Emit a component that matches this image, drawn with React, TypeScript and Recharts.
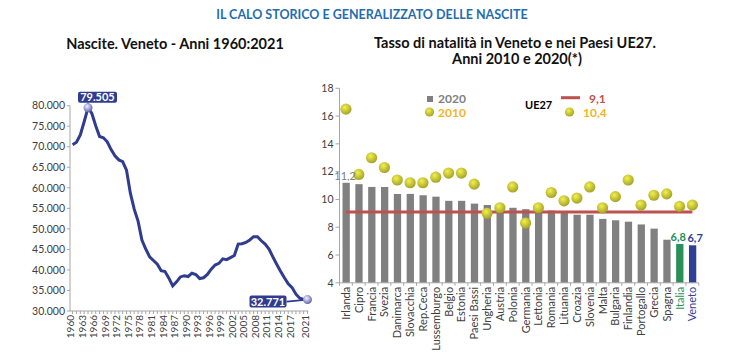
import { LineChart, Line, XAxis, YAxis, ComposedChart, Bar, Scatter, Cell, LabelList } from "recharts";

// --- Nascite Veneto 1960-2021 ---
const YEARS = [
  1960, 1961, 1962, 1963, 1964, 1965, 1966, 1967, 1968, 1969,
  1970, 1971, 1972, 1973, 1974, 1975, 1976, 1977, 1978, 1979,
  1980, 1981, 1982, 1983, 1984, 1985, 1986, 1987, 1988, 1989,
  1990, 1991, 1992, 1993, 1994, 1995, 1996, 1997, 1998, 1999,
  2000, 2001, 2002, 2003, 2004, 2005, 2006, 2007, 2008, 2009,
  2010, 2011, 2012, 2013, 2014, 2015, 2016, 2017, 2018, 2019,
  2020, 2021,
];
const BIRTHS = [
  70500, 71100, 72900, 76100, 79505, 78100, 75100, 72500, 72200, 71200,
  69300, 67800, 66800, 66400, 64300, 58700, 54800, 51900, 47300, 45100,
  43200, 42300, 41400, 39800, 39600, 38000, 36100, 37100, 38300, 38600,
  38400, 39200, 38900, 37900, 38100, 38900, 40200, 41200, 41600, 42700,
  42500, 43000, 43500, 46300, 46400, 46700, 47300, 48100, 48100, 47100,
  46300, 45100, 43200, 41400, 39700, 38100, 36600, 35700, 34100, 33100,
  32800, 32771,
];
const YEAR_LABELS = [
  1960, 1963, 1966, 1969, 1972, 1975, 1978, 1981, 1984, 1987, 1990,
  1993, 1996, 1999, 2002, 2005, 2008, 2011, 2014, 2017, 2021,
];
const BIRTH_TICKS = [30000, 35000, 40000, 45000, 50000, 55000, 60000, 65000, 70000, 75000, 80000];
const PEAK_YEAR = 1964;
const LAST_YEAR = 2021;

// --- Tasso di natalità UE27 ---
const COUNTRIES = [
  "Irlanda", "Cipro", "Francia", "Svezia", "Danimarca", "Slovacchia", "Rep.Ceca",
  "Lussemburgo", "Belgio", "Estonia", "Paesi Bassi", "Ungheria", "Austria", "Polonia",
  "Germania", "Lettonia", "Romania", "Lituania", "Croazia", "Slovenia", "Malta",
  "Bulgaria", "Finlandia", "Portogallo", "Grecia", "Spagna", "Italia", "Veneto",
];
const RATE_2020 = [
  11.2, 11.1, 10.9, 10.9, 10.4, 10.4, 10.3, 10.2, 9.9, 9.9, 9.7, 9.6, 9.5, 9.4,
  9.3, 9.2, 9.2, 9.1, 8.9, 8.9, 8.6, 8.5, 8.4, 8.2, 7.9, 7.1, 6.8, 6.7,
];
const RATE_2010 = [
  16.5, 11.8, 13.0, 12.3, 11.4, 11.2, 11.2, 11.6, 11.9, 11.9, 11.1, 9.0, 9.4, 10.9,
  8.3, 9.4, 10.5, 9.9, 10.1, 10.9, 9.4, 10.2, 11.4, 9.6, 10.3, 10.4, 9.5, 9.6,
];
const UE27_2020 = 9.1;
const UE27_2010 = 10.4;
const RATE_TICKS = [4, 6, 8, 10, 12, 14, 16, 18];
const LABELED = ["Irlanda", "Italia", "Veneto"];

const FONT = "Lato, 'Open Sans', sans-serif";
const NAVY = "#2f3c8f";
const GRAY_BAR = "#808080";
const GREEN = "#2a8f58";
const BLUE = "#2f3f96";
const RED = "#c0504d";
const YELLOW_TXT = "#f2b51c";
const AXIS = "#a6a6a6";
const TICK_TXT = "#404040";

const BAND = 359.3 / COUNTRIES.length;

const birthData = YEARS.map((year, i) => ({ year, births: BIRTHS[i] }));
const rateData = COUNTRIES.map((name, i) => ({
  name,
  r2020: RATE_2020[i],
  r2010: RATE_2010[i],
  ue27: UE27_2020,
}));

const fmtThousands = (v: number) => String(v).replace(/\B(?=(\d{3})+(?!\d))/g, ".");
const fmtDecimal = (v: number) => v.toFixed(1).replace(".", ",");

const countryColor = (name: string) =>
  name === "Italia" ? GREEN : name === "Veneto" ? BLUE : TICK_TXT;
const barColor = (name: string) =>
  name === "Italia" ? GREEN : name === "Veneto" ? BLUE : GRAY_BAR;

function YearTick(props: any) {
  const { x, y, payload } = props;
  if (!YEAR_LABELS.includes(payload.value)) return null;
  const ax = x + 1.5;
  return (
    <text
      x={ax}
      y={y}
      transform={`rotate(-90 ${ax} ${y})`}
      textAnchor="end"
      fontSize={10}
      fontFamily={FONT}
      fill={TICK_TXT}
    >
      {payload.value}
    </text>
  );
}

function CountryTick(props: any) {
  const { x, y, payload, index } = props;
  const ax = x + 4;
  const axisY = y - 4;
  const last = index === COUNTRIES.length - 1;
  return (
    <g>
      <line x1={x - BAND / 2} x2={x - BAND / 2} y1={axisY} y2={axisY + 3} stroke={AXIS} />
      {last && <line x1={x + BAND / 2} x2={x + BAND / 2} y1={axisY} y2={axisY + 3} stroke={AXIS} />}
      <text
        x={ax}
        y={y}
        transform={`rotate(-90 ${ax} ${y})`}
        textAnchor="end"
        fontSize={11}
        fontFamily={FONT}
        fill={countryColor(payload.value)}
      >
        {payload.value}
      </text>
    </g>
  );
}

function BirthDot(props: any) {
  const { cx, cy, payload } = props;
  if (payload.year === PEAK_YEAR) {
    return (
      <g key="peak">
        <rect x={cx - 10} y={cy - 16} width={39} height={11} rx={2} fill={NAVY} />
        <text x={cx + 9.5} y={cy - 6.8} textAnchor="middle" fontSize={11} fontWeight={700} fontFamily={FONT} fill="#fff">
          {fmtThousands(payload.births)}
        </text>
        <line x1={cx} y1={cy - 5} x2={cx} y2={cy} stroke={NAVY} strokeWidth={1.5} />
        <circle cx={cx} cy={cy} r={4.5} fill="url(#ballBlue)" />
      </g>
    );
  }
  if (payload.year === LAST_YEAR) {
    return (
      <g key="last">
        <line x1={cx - 21} y1={cy + 2} x2={cx} y2={cy} stroke={NAVY} strokeWidth={2} />
        <rect x={cx - 58} y={cy - 4} width={37} height={12} rx={2} fill={NAVY} />
        <text x={cx - 39.5} y={cy + 6} textAnchor="middle" fontSize={11} fontWeight={700} fontFamily={FONT} fill="#fff">
          {fmtThousands(payload.births)}
        </text>
        <circle cx={cx} cy={cy} r={4.5} fill="url(#ballBlue)" />
      </g>
    );
  }
  return <g key={`d${payload.year}`} />;
}

function RateLabel(props: any) {
  const { x, y, width, value, index } = props;
  const name = COUNTRIES[index];
  if (!LABELED.includes(name)) return null;
  const color = name === "Irlanda" ? GRAY_BAR : barColor(name);
  const shift = name === "Italia" ? -1.5 : name === "Veneto" ? 2.5 : -1;
  return (
    <text
      x={x + width / 2 + shift}
      y={y - 3}
      textAnchor="middle"
      fontSize={11}
      fontWeight={name === "Irlanda" ? 400 : 700}
      fontFamily={FONT}
      fill={color}
    >
      {fmtDecimal(value)}
    </text>
  );
}

function Ball(props: any) {
  const { cx, cy } = props;
  return <circle cx={cx} cy={cy} r={5.6} fill="url(#ballYellow)" />;
}

function BirthsChart() {
  return (
    <LineChart
      width={320}
      height={357}
      data={birthData}
      margin={{ top: 105.7, right: 11.5, bottom: 6, left: 8 }}
    >
      <defs>
        <radialGradient id="ballBlue" cx="40%" cy="35%" r="65%">
          <stop offset="0%" stopColor="#f2f2ff" />
          <stop offset="100%" stopColor="#5b64ad" />
        </radialGradient>
      </defs>
      <XAxis
        dataKey="year"
        type="number"
        domain={[1960, 2021]}
        ticks={YEARS}
        interval={0}
        padding={{ left: 2.6, right: 1 }}
        height={40}
        tickSize={3}
        tickMargin={1}
        stroke={AXIS}
        tick={<YearTick />}
      />
      <YAxis
        width={62}
        domain={[30000, 80000]}
        ticks={BIRTH_TICKS}
        interval={0}
        tickSize={3}
        stroke={AXIS}
        tickFormatter={fmtThousands}
        tick={{ fontSize: 10.5, fill: TICK_TXT, fontFamily: FONT }}
      />
      <Line
        dataKey="births"
        type="linear"
        stroke={NAVY}
        strokeWidth={3}
        dot={<BirthDot />}
        activeDot={false}
        isAnimationActive={false}
      />
    </LineChart>
  );
}

function RatesChart() {
  return (
    <ComposedChart
      width={451}
      height={357}
      data={rateData}
      margin={{ top: 88.3, right: 52.2, bottom: 4.2, left: 9.5 }}
      barCategoryGap={0}
    >
      <defs>
        <radialGradient id="ballYellow" cx="40%" cy="35%" r="65%">
          <stop offset="0%" stopColor="#f4f04a" />
          <stop offset="100%" stopColor="#a3a32a" />
        </radialGradient>
      </defs>
      <XAxis
        dataKey="name"
        interval={0}
        height={70}
        tickSize={3}
        tickMargin={1}
        tickLine={false}
        stroke={AXIS}
        tick={<CountryTick />}
      />
      <YAxis
        width={30}
        domain={[4, 18]}
        ticks={RATE_TICKS}
        interval={0}
        tickSize={4}
        stroke={AXIS}
        tick={{ fontSize: 10.5, fill: TICK_TXT, fontFamily: FONT }}
      />
      <Bar dataKey="r2020" barSize={7.3} isAnimationActive={false}>
        {rateData.map((d) => (
          <Cell key={d.name} fill={barColor(d.name)} />
        ))}
        <LabelList dataKey="r2020" content={<RateLabel />} />
      </Bar>
      <Line
        dataKey="ue27"
        type="linear"
        stroke={RED}
        strokeWidth={3}
        dot={false}
        activeDot={false}
        isAnimationActive={false}
      />
      <Scatter dataKey="r2010" shape={<Ball />} isAnimationActive={false} />
    </ComposedChart>
  );
}

function Overlay() {
  return (
    <svg
      width={751}
      height={357}
      style={{ position: "absolute", left: 0, top: 0, pointerEvents: "none" }}
    >
      <defs>
        <radialGradient id="legBall" cx="40%" cy="35%" r="65%">
          <stop offset="0%" stopColor="#f4f04a" />
          <stop offset="100%" stopColor="#a3a32a" />
        </radialGradient>
      </defs>
      <text x={372} y={19} textAnchor="middle" fontSize={12.5} fontWeight={700} fontFamily={FONT} fill="#1f6db0">
        IL CALO STORICO E GENERALIZZATO DELLE NASCITE
      </text>
      <text x={175} y={49} textAnchor="middle" fontSize={14.5} fontWeight={700} fontFamily={FONT} fill="#111">
        Nascite. Veneto - Anni 1960:2021
      </text>
      <text x={515} y={48} textAnchor="middle" fontSize={14.5} fontWeight={700} fontFamily={FONT} fill="#111">
        Tasso di natalità in Veneto e nei Paesi UE27.
      </text>
      <text x={517} y={64} textAnchor="middle" fontSize={14.5} fontWeight={700} fontFamily={FONT} fill="#111">
        Anni 2010 e 2020(*)
      </text>

      {/* legenda */}
      <rect x={427} y={96} width={6} height={6} fill={GRAY_BAR} />
      <text x={438} y={102.5} fontSize={12} fontWeight={700} fontFamily={FONT} fill={GRAY_BAR}>2020</text>
      <circle cx={429.5} cy={112} r={4.6} fill="url(#legBall)" />
      <text x={438} y={116.5} fontSize={12} fontWeight={700} fontFamily={FONT} fill={YELLOW_TXT}>2010</text>

      <text x={525} y={109} fontSize={11} fontWeight={700} fontFamily={FONT} fill="#000">UE27</text>
      <line x1={561} x2={580} y1={97.7} y2={97.7} stroke={RED} strokeWidth={3} />
      <text x={589} y={102.5} fontSize={12} fontWeight={700} fontFamily={FONT} fill={RED}>{fmtDecimal(UE27_2020)}</text>
      <circle cx={569.5} cy={112} r={4.6} fill="url(#legBall)" />
      <text x={583} y={116.5} fontSize={12} fontWeight={700} fontFamily={FONT} fill={YELLOW_TXT}>{fmtDecimal(UE27_2010)}</text>
    </svg>
  );
}

export default function App() {
  return (
    <div
      style={{
        position: "absolute",
        left: 0,
        top: 0,
        width: 751,
        height: 357,
        background: "#fff",
        overflow: "hidden",
        fontFamily: FONT,
      }}
    >
      <div style={{ position: "absolute", left: 300, top: 0 }}>
        <RatesChart />
      </div>
      <div style={{ position: "absolute", left: 0, top: 0 }}>
        <BirthsChart />
      </div>
      <Overlay />
    </div>
  );
}
